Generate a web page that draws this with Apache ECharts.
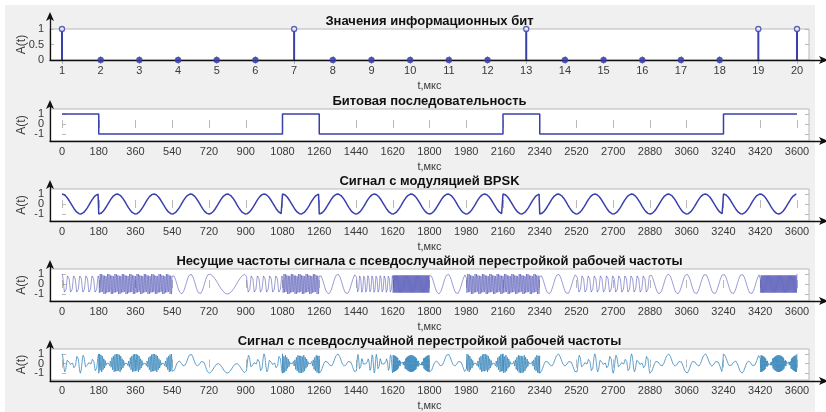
<!DOCTYPE html>
<html>
<head>
<meta charset="utf-8">
<script src="https://cdn.jsdelivr.net/npm/echarts@6/dist/echarts.min.js"></script>
<style>
  html, body { margin: 0; padding: 0; background: #ffffff; }
  #panel { position: absolute; left: 5px; top: 5px; width: 810px; height: 407px; background: #f0f0f0; }
  #chart { position: absolute; left: 0; top: 0; width: 826px; height: 412px; }
</style>
</head>
<body>
<div id="panel"></div>
<div id="chart"></div>
<script>
// Information bits (one per 180 µs slot)
const bitNumbers = [1, 2, 3, 4, 5, 6, 7, 8, 9, 10, 11, 12, 13, 14, 15, 16, 17, 18, 19, 20];
const bits = [1, 0, 0, 0, 0, 0, 1, 0, 0, 0, 0, 0, 1, 0, 0, 0, 0, 0, 1, 1];
const bitDuration = 180;           // µs
const bpskCyclesPerBit = 1;        // BPSK carrier periods per bit
// Hopping carrier: whole periods per bit slot for each hop
const hopCycles = [6, 25, 25, 2, 1, 6, 25, 2, 9, 40, 2, 25, 25, 2, 6, 6, 2, 2, 2, 40];
const timeTicks = [0, 180, 360, 540, 720, 900, 1080, 1260, 1440, 1620, 1800,
                   1980, 2160, 2340, 2520, 2700, 2880, 3060, 3240, 3420, 3600];
const bitTicksY = [0, 0.5, 1];
const signalTicksY = [-1, 0, 1];
const titles = [
  'Значения информационных бит',
  'Битовая последовательность',
  'Сигнал с модуляцией BPSK',
  'Несущие частоты сигнала с псевдослучайной перестройкой рабочей частоты',
  'Сигнал с псевдослучайной перестройкой рабочей частоты'
];

// ---- derived series ----
const levels = bits.map(b => (b ? 1 : -1));
const stemData = bitNumbers.map((n, i) => [n, bits[i]]);
const stepData = levels.map((v, k) => [k * bitDuration, v]);
stepData.push([bits.length * bitDuration, levels[levels.length - 1]]);

const samplesPerBit = 480;
const bpsk = [], carrier = [], fhss = [];
for (let k = 0; k < bits.length; k++) {
  const t0 = k * bitDuration;
  for (let i = 0; i <= samplesPerBit; i++) {
    const frac = i / samplesPerBit;
    const t = t0 + frac * bitDuration;
    const b = levels[k] * Math.cos(2 * Math.PI * bpskCyclesPerBit * frac);
    const c = Math.cos(2 * Math.PI * hopCycles[k] * frac);
    bpsk.push([t, b]);
    carrier.push([t, c]);
    fhss.push([t, b * c]);
  }
}

// ---- layout ----
const FONT = 'Liberation Sans, Arial, sans-serif';
const boxLeft = 50, boxRight = 17;
const boxTops = [29, 109, 189, 269, 349];
const boxHeights = [31, 32, 32, 32, 32];
const arrowTops = [15, 103, 183, 263, 343];
const frameColor = '#b8b8b8';
const lineBlue = '#3a40ab';
const labelColor = '#3a3a3a';
const plain = v => String(v);

const grids = [], xAxes = [], yAxes = [], series = [];

const tMin = -58.8, tMax = 3658.8;

for (let p = 0; p < 5; p++) {
  const isBits = p === 0;
  const xMin = isBits ? 0.69 : tMin;
  const xMax = isBits ? 20.31 : tMax;
  const xTicks = isBits ? bitNumbers : timeTicks;
  const yMin = isBits ? 0 : -1.7;
  const yMax = isBits ? 1 : 1.5;
  const yTicks = isBits ? bitTicksY : signalTicksY;

  // framed plotting box
  const gi = grids.length;
  grids.push({ left: boxLeft, right: boxRight, top: boxTops[p], height: boxHeights[p],
               show: true, backgroundColor: '#ffffff', borderColor: frameColor, borderWidth: 1 });
  // bottom axis with labels
  xAxes.push({
    gridIndex: gi, type: 'value', min: xMin, max: xMax, position: 'bottom',
    axisLine: { show: false }, splitLine: { show: false },
    axisTick: { show: true, inside: true, length: 4, customValues: xTicks, lineStyle: { color: frameColor } },
    axisLabel: { show: true, customValues: xTicks, formatter: plain,
                 margin: 5, fontSize: 11, color: labelColor, fontFamily: FONT },
    name: 't,мкс', nameLocation: 'middle', nameGap: 20,
    nameTextStyle: { fontSize: 11, color: labelColor, fontFamily: FONT }
  });
  // top edge: ticks and title
  xAxes.push({
    gridIndex: gi, type: 'value', min: xMin, max: xMax, position: 'top',
    axisLine: { show: false }, splitLine: { show: false },
    axisTick: { show: true, inside: true, length: 4, customValues: xTicks, lineStyle: { color: frameColor } },
    axisLabel: { show: false },
    name: titles[p], nameLocation: 'middle', nameGap: 1,
    nameTextStyle: { fontSize: 13, fontWeight: 'bold', color: '#111', fontFamily: FONT }
  });
  const yLeft = yAxes.length;
  yAxes.push({
    gridIndex: gi, type: 'value', min: yMin, max: yMax, position: 'left',
    axisLine: { show: false }, splitLine: { show: false },
    axisTick: { show: true, inside: true, length: 4, customValues: yTicks, lineStyle: { color: frameColor } },
    axisLabel: { show: false },
    name: 'A(t)', nameLocation: 'middle', nameRotate: 90, nameGap: 22,
    nameTextStyle: { fontSize: 12, color: labelColor, fontFamily: FONT }
  });
  // one label-only axis per tick value, so closely spaced labels all stay visible
  yTicks.forEach(v => {
    yAxes.push({
      gridIndex: gi, type: 'value', min: yMin, max: yMax, position: 'left',
      axisLine: { show: false }, splitLine: { show: false }, axisTick: { show: false },
      axisLabel: { show: true, customValues: [v], formatter: plain,
                   margin: 6, fontSize: 11, color: labelColor, fontFamily: FONT }
    });
  });
  yAxes.push({
    gridIndex: gi, type: 'value', min: yMin, max: yMax, position: 'right',
    axisLine: { show: false }, splitLine: { show: false },
    axisTick: { show: true, inside: true, length: 4, customValues: yTicks, lineStyle: { color: frameColor } },
    axisLabel: { show: false }
  });
  const xBottom = xAxes.length - 2;

  // arrowed axes drawn over the box
  const ai = grids.length;
  const boxBottom = boxTops[p] + boxHeights[p];
  grids.push({ left: boxLeft, right: 1, top: arrowTops[p], height: boxBottom - arrowTops[p] });
  const arrowLine = { show: true, onZero: false, symbol: ['none', 'arrow'], symbolSize: [6, 9],
                      symbolOffset: [0, 3], lineStyle: { color: '#111', width: 1.3 } };
  xAxes.push({ gridIndex: ai, type: 'value', min: 0, max: 1, position: 'bottom', z: 3,
               axisLine: arrowLine, axisTick: { show: false }, axisLabel: { show: false }, splitLine: { show: false } });
  yAxes.push({ gridIndex: ai, type: 'value', min: 0, max: 1, position: 'left', z: 3,
               axisLine: arrowLine, axisTick: { show: false }, axisLabel: { show: false }, splitLine: { show: false } });

  if (p === 0) {
    series.push({ type: 'bar', xAxisIndex: xBottom, yAxisIndex: yLeft, data: stemData,
                  barWidth: 2, itemStyle: { color: lineBlue }, z: 2 });
    series.push({ type: 'scatter', xAxisIndex: xBottom, yAxisIndex: yLeft, data: stemData,
                  symbol: 'circle', symbolSize: 5, z: 5,
                  itemStyle: { color: (prm) => (prm.value[1] ? '#ffffff' : lineBlue),
                               borderColor: lineBlue, borderWidth: 1.4 } });
  } else if (p === 1) {
    series.push({ type: 'line', step: 'end', xAxisIndex: xBottom, yAxisIndex: yLeft, data: stepData,
                  showSymbol: false, lineStyle: { color: lineBlue, width: 1.5 } });
  } else if (p === 2) {
    series.push({ type: 'line', xAxisIndex: xBottom, yAxisIndex: yLeft, data: bpsk, sampling: null,
                  showSymbol: false, lineStyle: { color: lineBlue, width: 1.5 } });
  } else if (p === 3) {
    series.push({ type: 'line', xAxisIndex: xBottom, yAxisIndex: yLeft, data: carrier,
                  showSymbol: false, lineStyle: { color: '#4549b0', width: 0.55 } });
  } else {
    series.push({ type: 'line', xAxisIndex: xBottom, yAxisIndex: yLeft, data: fhss,
                  showSymbol: false, lineStyle: { color: '#3a88bb', width: 0.8 } });
  }
}

const chart = echarts.init(document.getElementById('chart'), null, { renderer: 'canvas' });
chart.setOption({
  animation: false,
  backgroundColor: 'transparent',
  textStyle: { fontFamily: FONT },
  grid: grids,
  xAxis: xAxes,
  yAxis: yAxes,
  series: series
});
</script>
</body>
</html>
